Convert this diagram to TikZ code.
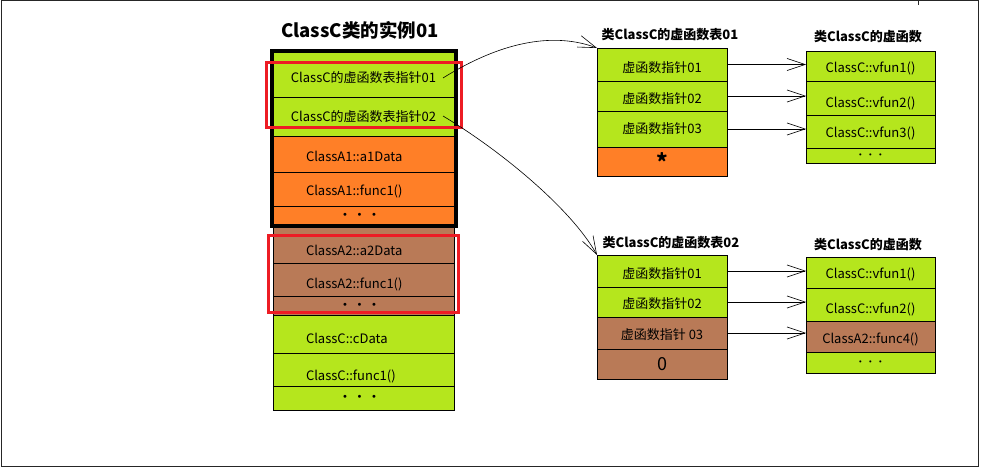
\documentclass[tikz,border=0pt]{standalone}
\usepackage{fontspec}
\setmainfont{Noto Sans CJK SC}
\newfontfamily\dejavu{DejaVu Sans}
\usetikzlibrary{arrows.meta}
\definecolor{lime}{RGB}{181,230,29}
\definecolor{org}{RGB}{255,127,39}
\definecolor{brn}{RGB}{185,122,87}
\definecolor{redb}{RGB}{237,28,36}
\newcommand\bigdots{{\dejavu\fontsize{10}{10}\selectfont •\hspace{8.6pt}•\hspace{8.6pt}•}}
\newcommand\smalldots{{\dejavu\fontsize{7}{7}\selectfont •\hspace{5.9pt}•\hspace{5.9pt}•}}
\begin{document}
\begin{tikzpicture}[x=1pt,y=-1pt,
  cell/.style={draw=black, line width=0.8pt, inner sep=0pt, outer sep=0pt,
    font=\fontsize{13}{15}\selectfont, text height=11pt, text depth=2pt},
  th/.style={text height=#1pt},
  mcell/.style={cell, minimum width=181pt},
  lcell/.style={mcell, text width=115pt, inner xsep=33pt, align=left},
  tcell/.style={cell, minimum width=130pt},
  fcell/.style={cell, minimum width=129pt},
  dcell/.style={text height=, text depth=},
  lbl/.style={inner sep=0pt, font=\bfseries\fontsize{13}{15}\selectfont},
  conn/.style={line width=0.6pt, -{Straight Barb[length=18pt,width=12pt,line width=0.6pt]}},
  redbox/.style={draw=redb, line width=3pt},
  thickbox/.style={draw=black, line width=3.5pt},
  frame/.style={draw=black!85, line width=1pt}
]
\useasboundingbox (0,0) rectangle (982,470);
\draw[frame] (1,1) rectangle (978,466);
\draw[frame] (918,0) -- (918,5);

% title
\node[inner sep=0pt, font=\bfseries\fontsize{18.5}{22}\selectfont] (title) at (360,30) {ClassC类的实例01};

% main column
\node[mcell, fill=lime, minimum height=45pt, th=19] (m1) at (363.5,74.5) {ClassC的虚函数表指针01};
\node[mcell, fill=lime, minimum height=39pt, th=13] (m2) at (363.5,116.5) {ClassC的虚函数表指针02};
\node[lcell, fill=org, minimum height=36pt, th=18] (m3) at (363.5,154) {ClassA1::a1Data};
\node[lcell, fill=org, minimum height=34pt, th=16] (m4) at (363.5,189) {ClassA1::func1()};
\node[mcell, fill=org, minimum height=20pt, dcell] (m5) at (363.5,216) {\hspace*{-8pt}\bigdots};
\node[lcell, fill=brn, minimum height=37pt, th=25] (m6) at (363.5,244.5) {ClassA2::a2Data};
\node[lcell, fill=brn, minimum height=33pt, th=19] (m7) at (363.5,279.5) {ClassA2::func1()};
\node[mcell, fill=brn, minimum height=19pt, dcell] (m8) at (363.5,305.5) {\hspace*{-8pt}\bigdots};
\node[lcell, fill=lime, minimum height=38pt, th=20] (m9) at (363.5,334) {ClassC::cData};
\node[lcell, fill=lime, minimum height=33pt, th=23] (m10) at (363.5,369.5) {ClassC::func1()};
\node[mcell, fill=lime, minimum height=24pt, dcell] (m11) at (363.5,398) {\hspace*{-8pt}\bigdots};

\draw[thickbox] (272,50.5) rectangle (456,226);
\draw[redbox] (266,62.5) rectangle (461,128);
\draw[redbox] (268,235.5) rectangle (458,312);

% table 1
\node[lbl] (lab1) at (670,35) {类ClassC的虚函数表01};
\node[tcell, fill=lime, minimum height=33pt, th=19] (a1) at (662,64.5) {虚函数指针01};
\node[tcell, fill=lime, minimum height=30pt, th=18] (a2) at (662,96) {虚函数指针02};
\node[tcell, fill=lime, minimum height=36pt, th=12] (a3) at (662,129) {虚函数指针03};
\node[tcell, fill=org, minimum height=29pt, dcell, font=\bfseries\fontsize{22}{22}\selectfont] (a4) at (662,161.5) {*};

% functions 1
\node[lbl] (lab2) at (868,37) {类ClassC的虚函数};
\node[fcell, fill=lime, minimum height=30pt, th=16] (b1) at (870.5,66) {ClassC::vfun1()};
\node[fcell, fill=lime, minimum height=34pt, th=22] (b2) at (870.5,98) {ClassC::vfun2()};
\node[fcell, fill=lime, minimum height=33pt, th=15] (b3) at (870.5,131.5) {ClassC::vfun3()};
\node[fcell, fill=lime, minimum height=15pt, dcell] (b4) at (870.5,155.5) {\smalldots};

% table 2
\node[lbl] (lab3) at (671,243) {类ClassC的虚函数表02};
\node[tcell, fill=lime, minimum height=32pt, th=18] (c1) at (662,271) {虚函数指针01};
\node[tcell, fill=lime, minimum height=30pt, th=14] (c2) at (662,302) {虚函数指针02};
\node[tcell, fill=brn, minimum height=32pt, th=14] (c3) at (662,333) {虚函数指针 03};
\node[tcell, fill=brn, minimum height=30pt, dcell, font=\fontsize{18}{18}\selectfont] (c4) at (662,364) {0};

% functions 2
\node[lbl] (lab4) at (868,245) {类ClassC的虚函数};
\node[fcell, fill=lime, minimum height=31pt, th=15] (d1) at (870.5,272.5) {ClassC::vfun1()};
\node[fcell, fill=lime, minimum height=33pt, th=19] (d2) at (870.5,304.5) {ClassC::vfun2()};
\node[fcell, fill=brn, minimum height=31pt, th=15] (d3) at (870.5,336.5) {ClassA2::func4()};
\node[fcell, fill=lime, minimum height=21pt, dcell] (d4) at (870.5,362.5) {\smalldots};

% connectors
\draw[conn] (a1.east) -- (a1.east -| b1.west);
\draw[conn] (a2.east) -- (a2.east -| b2.west);
\draw[conn] (a3.east) -- (a3.east -| b3.west);
\draw[conn] (c1.east) -- (c1.east -| d1.west);
\draw[conn] (c2.east) -- (c2.east -| d2.west);
\draw[conn] (c3.east) -- (c3.east -| d3.west);

\coordinate (s1) at (443,78);
\coordinate (s2) at (443,116);
\draw[conn] (s1) .. controls (520,30) and (570,38) .. (a1.north west);
\draw[conn] (s2) .. controls (503,152) and (572,210) .. (c1.north west);
\end{tikzpicture}
\end{document}
